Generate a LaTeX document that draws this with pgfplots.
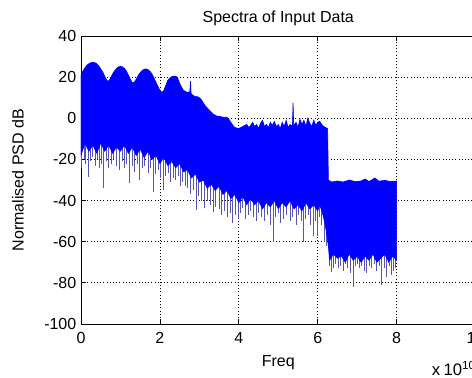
\documentclass[border=0pt]{standalone}
\usepackage{pgfplots}
\pgfplotsset{compat=1.18}
\usepackage{fontspec}
\setmainfont{Liberation Sans}
\definecolor{specblue}{RGB}{0,0,255}
\definecolor{spikecol}{RGB}{85,85,175}

\pgfplotstableread{
x y
0.00 21
0.05 23
0.10 24.5
0.15 25.8
0.20 26.5
0.25 27
0.30 27.2
0.35 27
0.40 26.5
0.45 25.5
0.50 24
0.55 22.5
0.60 20.5
0.65 18.5
0.70 18
0.75 19.5
0.80 21.5
0.85 23
0.90 24.2
0.95 25
1.00 25.2
1.05 25
1.10 24.2
1.15 23
1.20 21
1.25 19
1.30 17.2
1.35 17.5
1.40 19
1.45 20.8
1.50 22.2
1.55 23.2
1.60 23.8
1.65 24
1.70 23.6
1.75 22.8
1.80 21.5
1.85 19.5
1.90 17.5
1.95 15.5
2.00 13.5
2.05 12.5
2.10 13.5
2.15 16
2.20 18.5
2.25 19.5
2.30 20.2
2.35 20.5
2.40 20.5
2.45 19.5
2.50 17
2.55 15
2.60 13.5
2.65 13
2.70 12.5
2.76 13
2.775 18
2.79 12
2.85 11
2.90 10.5
2.95 10.5
3.00 10
3.05 9
3.10 7.5
3.15 6
3.20 5
3.25 4
3.30 3
3.35 2
3.40 1.5
3.45 1
3.50 1
3.60 0.5
3.70 0.5
3.75 -0.5
3.80 -2
3.85 -3.5
3.90 -4.5
4.00 -5
4.10 -4
4.20 -3
4.25 -4.5
4.30 -3.5
4.35 -2
4.40 -4
4.45 -3
4.50 -5
4.55 -2.5
4.60 -1
4.65 -4
4.70 -3
4.75 -4.5
4.80 -2
4.85 -3.5
4.90 -1.5
4.95 -4
5.00 -3
5.05 -5
5.10 -2
5.15 -4
5.20 -1
5.25 -4.5
5.30 -3
5.36 -4
5.375 7.5
5.39 -3.5
5.45 -2
5.50 -4.5
5.55 -0.5
5.60 -3
5.65 -1
5.70 -4
5.75 0
5.80 -2.5
5.85 -4
5.90 -1
5.95 -3.5
6.00 -2
6.05 -1.5
6.10 -3
6.15 -4
6.20 -4.5
6.25 -5
6.27 -30
6.35 -31
6.50 -30.5
6.65 -31
6.80 -30
6.95 -30.8
7.10 -30.5
7.20 -29.5
7.30 -30.8
7.45 -29
7.55 -30.6
7.70 -30.2
7.85 -30.8
8.00 -30.5
8.00 -69
7.90 -67
7.80 -70
7.70 -66
7.60 -68
7.50 -70
7.40 -66
7.30 -69
7.20 -67
7.10 -70
7.00 -67
6.90 -69
6.80 -66
6.70 -70
6.60 -67
6.50 -68
6.40 -66
6.30 -69
6.27 -62
6.22 -55
6.17 -50
6.12 -46
6.05 -42
6.00 -45
5.90 -42
5.80 -44
5.70 -41
5.60 -45
5.50 -42
5.40 -44
5.30 -40
5.20 -43
5.10 -41
5.00 -44
4.90 -40
4.80 -43
4.70 -41
4.60 -44
4.50 -40
4.40 -42
4.30 -39
4.20 -42
4.10 -38
4.00 -41
3.90 -37
3.80 -39
3.70 -35
3.60 -37
3.50 -33
3.40 -35
3.30 -32
3.20 -34
3.10 -30
3.00 -31
2.90 -27
2.80 -29
2.70 -25
2.60 -26
2.50 -22
2.40 -24
2.30 -21
2.20 -23
2.10 -19
2.00 -22
1.90 -18
1.80 -20
1.70 -16
1.60 -19
1.50 -15
1.40 -18
1.30 -14
1.20 -17
1.10 -13
1.00 -16
0.90 -14
0.80 -17
0.70 -13
0.60 -16
0.50 -12
0.40 -17
0.30 -13
0.20 -16
0.10 -12
0.00 -18
}\envelope

\pgfplotstableread{
x y u v
0.02 -10 0 -14
0.08 -10 0 -10
0.12 -10 0 -12
0.18 -10 0 -18.5
0.24 -10 0 -11
0.30 -10 0 -9
0.36 -10 0 -13
0.42 -10 0 -10
0.48 -10 0 -14
0.53 -10 0 -12
0.58 -10 0 -24
0.64 -10 0 -11
0.70 -10 0 -14
0.77 -10 0 -12
0.83 -10 0 -10
0.90 -10 0 -13
0.98 -10 0 -15
1.04 -10 0 -11
1.10 -10 0 -14
1.16 -10 0 -12
1.23 -10 0 -21.5
1.30 -10 0 -13
1.36 -10 0 -16
1.42 -10 0 -12
1.48 -10 0 -20
1.55 -10 0 -14
1.62 -10 0 -13
1.70 -10 0 -16.7
1.76 -10 0 -14
1.83 -10 0 -25.7
1.90 -10 0 -17
1.96 -10 0 -15
2.02 -18 0 -11
2.08 -18 0 -17
2.14 -18 0 -10
2.21 -18 0 -8.7
2.28 -18 0 -13
2.34 -18 0 -11
2.40 -18 0 -12
2.46 -18 0 -10
2.52 -18 0 -15
2.58 -18 0 -13
2.64 -18 0 -15
2.71 -18 0 -16
2.78 -18 0 -19
2.85 -18 0 -17
2.92 -18 0 -26.6
2.98 -18 0 -20
3.05 -28 0 -12
3.14 -28 0 -15.7
3.20 -28 0 -12
3.27 -28 0 -14
3.35 -28 0 -17.4
3.42 -28 0 -15
3.50 -28 0 -16
3.57 -28 0 -19
3.64 -28 0 -17
3.72 -28 0 -20
3.78 -28 0 -18
3.85 -28 0 -23
3.92 -28 0 -19
3.98 -28 0 -21
4.04 -35 0 -11
4.10 -35 0 -8.7
4.17 -35 0 -14
4.24 -35 0 -12
4.30 -35 0 -10
4.37 -35 0 -12.8
4.44 -35 0 -15
4.50 -35 0 -11
4.57 -35 0 -13
4.66 -35 0 -15
4.73 -35 0 -12
4.80 -35 0 -17
4.87 -35 0 -25
4.94 -35 0 -13
5.00 -35 0 -11
5.06 -35 0 -16
5.12 -35 0 -14
5.20 -35 0 -12
5.30 -35 0 -15
5.37 -35 0 -13
5.45 -35 0 -17
5.52 -35 0 -12
5.58 -35 0 -15
5.63 -35 0 -25
5.70 -35 0 -14
5.76 -35 0 -12
5.82 -35 0 -17
5.88 -35 0 -22
5.94 -35 0 -15
6.00 -35 0 -22
6.05 -35 0 -13
6.10 -35 0 -17
6.18 -35 0 -25
6.22 -35 0 -27
6.30 -62 0 -10
6.35 -62 0 -12.6
6.40 -62 0 -11
6.46 -62 0 -9
6.52 -62 0 -11
6.58 -62 0 -10
6.64 -62 0 -12
6.70 -62 0 -9
6.76 -62 0 -11
6.82 -62 0 -13.3
6.90 -62 0 -19.9
6.95 -62 0 -10
7.00 -62 0 -9
7.06 -62 0 -11
7.12 -62 0 -10
7.18 -62 0 -12
7.24 -62 0 -13
7.30 -62 0 -10
7.37 -62 0 -11
7.43 -62 0 -9
7.50 -62 0 -12
7.56 -62 0 -10
7.62 -62 0 -19
7.68 -62 0 -11
7.75 -62 0 -15
7.81 -62 0 -10
7.87 -62 0 -14
7.93 -62 0 -12
7.98 -62 0 -11
}\spikes

\begin{document}
\begin{tikzpicture}
\begin{axis}[
  name=ax,
  scale only axis,
  width=295.9pt, height=216pt,
  xmin=0, xmax=10, ymin=-100, ymax=40,
  xtick={0,2,4,6,8,10}, ytick={-100,-80,-60,-40,-20,0,20,40},
  tick align=inside, major tick length=3.5pt,
  grid=major, grid style={black, dotted, line width=0.6pt},
  axis line style={black, line width=0.6pt},
  tick style={black, line width=0.6pt},
  /pgf/number format/assume math mode=true,
  scaled x ticks=false,
  tick label style={font=\fontsize{12}{14}\selectfont},
  xticklabel style={yshift=-2.5pt},
  label style={font=\fontsize{12}{14}\selectfont},
  every axis title/.style={font=\fontsize{12}{14}\selectfont, at={(axis description cs:0.5,1.062)}, anchor=center},
  title={Spectra of Input Data},
  xlabel={Freq},
  xlabel style={at={(axis description cs:0.5,-0.135)}, anchor=center},
  ylabel={Normalised PSD dB},
  ylabel style={at={(axis description cs:-0.16,0.5)}, anchor=center},
]
\addplot[spikecol, line width=0.7pt, quiver={u=\thisrow{u}, v=\thisrow{v}}] table[x=x, y=y] {\spikes};
\addplot[fill=specblue, draw=specblue, line width=0.5pt] table[x=x, y=y] {\envelope} -- cycle;
\end{axis}
\node[anchor=base west, font=\fontsize{12.5}{14}\selectfont, inner sep=0pt] at ([xshift=263pt, yshift=-38.5pt]ax.south west) {x\hspace{2.5pt}10\textsuperscript{10}};
\pgfresetboundingbox
\useasboundingbox (-60.75pt,-40.5pt) rectangle (293.25pt,243pt);
\end{tikzpicture}
\end{document}
